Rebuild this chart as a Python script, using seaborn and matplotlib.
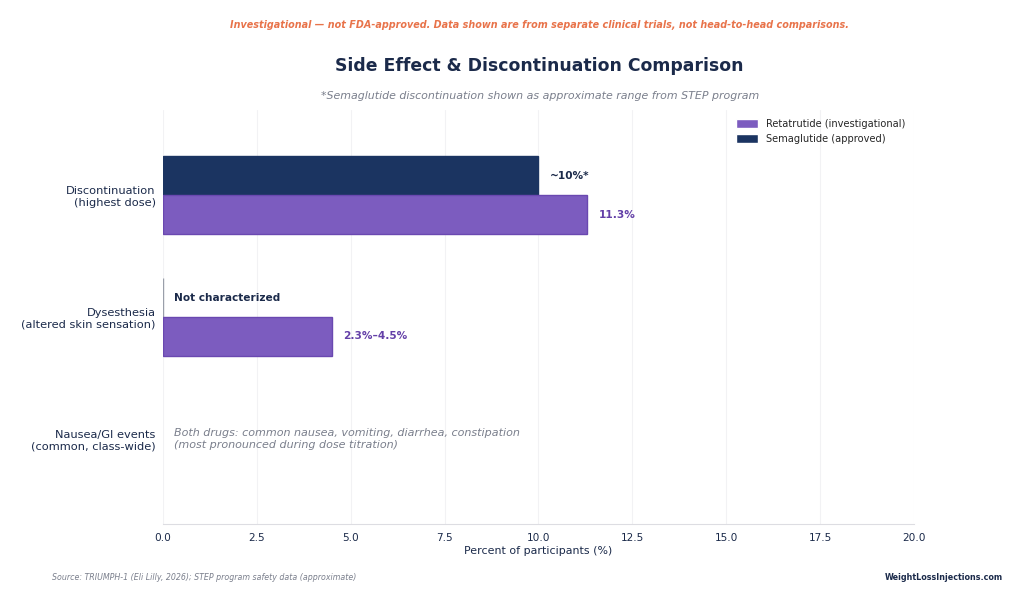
import numpy as np
import pandas as pd
import seaborn as sns
import matplotlib.pyplot as plt

# chart data
categories = ["Discontinuation\n(highest dose)",
              "Dysesthesia\n(altered skin sensation)",
              "Nausea/GI events\n(common, class-wide)"]
reta_values = [11.3, 4.5, np.nan]
sema_values = [10.0, 0.0, np.nan]
reta_labels = ["11.3%", "2.3%\u20134.5%", ""]
sema_labels = ["~10%*", "Not characterized", ""]
reta_name = "Retatrutide (investigational)"
sema_name = "Semaglutide (approved)"
x_ticks = [0.0, 2.5, 5.0, 7.5, 10.0, 12.5, 15.0, 17.5, 20.0]

NAVY = "#1B3461"
PURPLE = "#7C5CBF"
PURPLE_EDGE = "#6A48B0"
TEXT = "#1B2A4A"
GRAY = "#7A7F8C"
ORANGE = "#E8734A"

df = pd.DataFrame({
    "category": categories * 2,
    "value": sema_values + reta_values,
    "drug": [sema_name] * 3 + [reta_name] * 3,
})

sns.set_style("whitegrid", {"grid.color": "#F2F2F4", "axes.edgecolor": "#DDDDE2"})
plt.rcParams["font.family"] = ["DejaVu Sans"]

fig = plt.figure(figsize=(10.24, 6.03), dpi=100)
ax = fig.add_axes([0.159, 0.131, 0.7336, 0.6866])

sns.barplot(data=df, x="value", y="category", hue="drug", orient="h",
            hue_order=[sema_name, reta_name], order=categories,
            palette={sema_name: NAVY, reta_name: PURPLE}, saturation=1,
            width=0.64, ax=ax, legend=True, errorbar=None)

# bar edges (the zero-width semaglutide bar shows as a thin grey line)
for bar in ax.containers[0]:
    bar.set_edgecolor("#9A9FAA" if bar.get_width() == 0 else NAVY)
    bar.set_linewidth(1.0)
for bar in ax.containers[1]:
    bar.set_edgecolor(PURPLE_EDGE)
    bar.set_linewidth(1.0)

# value labels
for bar, lab, val in zip(ax.containers[0], sema_labels, sema_values):
    if lab:
        yc = bar.get_y() + bar.get_height() / 2
        ax.text(val + 0.3, yc, lab, va="center", ha="left", fontsize=7.6,
                fontweight="bold", color=TEXT)
for bar, lab, val in zip(ax.containers[1], reta_labels, reta_values):
    if lab:
        yc = bar.get_y() + bar.get_height() / 2
        ax.text(val + 0.3, yc, lab, va="center", ha="left", fontsize=7.6,
                fontweight="bold", color="#6440A8")

ax.text(0.3, 2, "Both drugs: common nausea, vomiting, diarrhea, constipation\n"
        "(most pronounced during dose titration)", va="center", ha="left",
        fontsize=8, style="italic", color=GRAY, linespacing=1.2)

ax.set_xlim(0, 20)
ax.set_ylim(2.7, -0.7)
ax.set_xticks(x_ticks)
ax.set_xticklabels([f"{t:.1f}" for t in x_ticks])
ax.tick_params(axis="x", labelsize=7.6, colors=TEXT, length=3, color="#DDDDE2")
ax.tick_params(axis="y", labelsize=8.2, colors=TEXT, length=3, pad=2,
               color="#9A9FAA")
ax.set_xlabel("Percent of participants (%)", fontsize=7.9, color=TEXT,
              labelpad=2)
ax.set_ylabel("")
for side in ["top", "right", "left"]:
    ax.spines[side].set_visible(False)

handles, labels = ax.get_legend_handles_labels()
ax.legend(handles[::-1], labels[::-1], loc="upper right", frameon=False,
          fontsize=7.1, title=None, handlelength=2.2, handleheight=1.0)

fig.text(0.527, 0.958, "Investigational \u2014 not FDA-approved. Data shown are from "
         "separate clinical trials, not head-to-head comparisons.",
         ha="center", va="center", fontsize=6.9, fontweight="bold",
         style="italic", color=ORANGE)
fig.text(0.527, 0.890, "Side Effect & Discontinuation Comparison", ha="center",
         va="center", fontsize=12.4, fontweight="bold", color=TEXT)
fig.text(0.527, 0.840, "*Semaglutide discontinuation shown as approximate range "
         "from STEP program", ha="center", va="center", fontsize=7.9,
         style="italic", color=GRAY)
fig.text(0.051, 0.043, "Source: TRIUMPH-1 (Eli Lilly, 2026); STEP program safety "
         "data (approximate)", ha="left", va="center", fontsize=5.7,
         style="italic", color=GRAY)
fig.text(0.979, 0.043, "WeightLossInjections.com", ha="right", va="center",
         fontsize=5.8, fontweight="bold", color=TEXT)

fig.savefig("out.png", dpi=100)
